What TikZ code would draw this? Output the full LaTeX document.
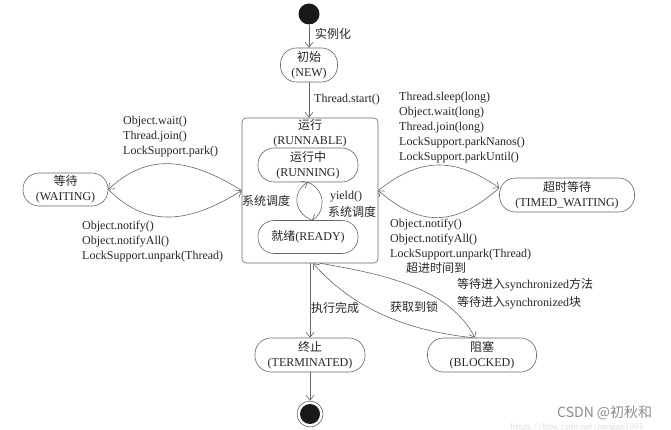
\documentclass[tikz,border=0pt]{standalone}
\usepackage{fontspec}
\setmainfont{Liberation Serif}
\newfontfamily\cjk{Noto Sans CJK SC}
\newfontfamily\wmfont{Noto Sans CJK SC}
\usetikzlibrary{arrows.meta}
\begin{document}
\begin{tikzpicture}[x=1pt,y=-1pt,
  every node/.style={font=\fontsize{12}{15}\selectfont, text=black!85, inner sep=0pt},
  st/.style={draw=black!60, line width=0.6pt, rounded corners=16pt, minimum width=#1, minimum height=34pt, align=center},
  arr/.style={draw=black!60, line width=0.6pt, -{Straight Barb[length=5pt,width=8pt]}},
  lbl/.style={align=left, anchor=west}
]
\useasboundingbox[fill=white] (0,0) rectangle (671,430);

% nodes
\node[circle, fill=black!90, minimum size=21pt] (start) at (309,14) {};
\node[st=57pt] (new) at (309,65) {{\cjk 初始}\\(NEW)};
\node[draw=black!60, line width=0.6pt, rounded corners=4pt, minimum width=136pt, minimum height=145pt] (runnable) at (310,190.5) {};
\node[align=center] (rlabel) at (310,133) {{\cjk 运行}\\(RUNNABLE)};
\node[st=100pt] (running) at (308,165) {{\cjk 运行中}\\(RUNNING)};
\node[st=100pt, minimum height=33pt] (ready) at (308,237) {{\cjk 就绪}(READY)};
\node[st=85pt, minimum height=33pt] (waiting) at (65.5,189.5) {{\cjk 等待}\\(WAITING)};
\node[st=135pt] (timed) at (567,195) {{\cjk 超时等待}\\(TIMED\_WAITING)};
\node[st=110pt] (term) at (310,355) {{\cjk 终止}\\(TERMINATED)};
\node[st=109pt] (blocked) at (482,355) {{\cjk 阻塞}\\(BLOCKED)};
\node[circle, draw=black!60, line width=0.6pt, minimum size=26pt] (endc) at (310,414) {};
\node[circle, fill=black!90, minimum size=20pt] (endin) at (endc) {};

% top
\draw[arr] (start) -- (new);
\node[anchor=west] (inst) at (315,34) {\cjk 实例化};
\draw[arr] (new) -- (new |- runnable.north);
\node[anchor=west] (tstart) at (314,100) {Thread.start()};

% running <-> ready
\draw[arr] ([xshift=4pt]ready.north) .. controls (292,212) and (293,190) .. ([xshift=0pt]running.south);
\draw[arr] ([xshift=0pt]running.south) .. controls (326,190) and (326,212) .. ([xshift=4pt]ready.north);
\node (sys1) at (266,201) {\cjk 系统调度};
\node (yield) at (346,197) {yield()};
\node (sys2) at (352,212) {\cjk 系统调度};

% waiting lens
\draw[arr] (runnable.west) .. controls (185,155) and (145,155) .. (waiting.east);
\draw[arr] (waiting.east) .. controls (145,226) and (185,226) .. (runnable.west);
\node[lbl] (wl1) at (123,137) {Object.wait()\\Thread.join()\\LockSupport.park()};
\node[lbl] (wl2) at (82,242) {Object.notify()\\Object.notifyAll()\\LockSupport.unpark(Thread)};

% timed waiting lens
\draw[arr] (runnable.east) .. controls (420,157) and (455,157) .. ([yshift=7pt]timed.west);
\draw[arr] ([yshift=7pt]timed.west) .. controls (455,227) and (420,227) .. (runnable.east);
\node[lbl] (tl1) at (399,128) {Thread.sleep(long)\\Object.wait(long)\\Thread.join(long)\\LockSupport.parkNanos()\\LockSupport.parkUntil()};
\node[lbl] (tl2) at (390,240) {Object.notify()\\Object.notifyAll()\\LockSupport.unpark(Thread)};

% bottom
\draw[arr] (runnable.south) -- (term.north);
\node (done) at (335,308) {\cjk 执行完成};
\draw[arr] (term.south) -- (endc.north);
\draw[arr] ([xshift=-9pt]blocked.north) .. controls (400,330) and (350,305) .. ([xshift=3pt]runnable.south);
\node (lock) at (414,307) {\cjk 获取到锁};
\draw[arr] ([xshift=10pt]runnable.south) .. controls (390,275) and (450,290) .. ([xshift=-7pt]blocked.north);
\node[anchor=west] (timeout) at (406,268) {\cjk 超进时间到};
\node[anchor=west] (sync1) at (457,285) {{\cjk 等待进入}synchronized{\cjk 方法}};
\node[anchor=west] (sync2) at (457,303) {{\cjk 等待进入}synchronized{\cjk 块}};

% watermark
\node[font=\wmfont\fontsize{14}{16}\selectfont, text=black!45, anchor=west] (wm) at (557,413) {CSDN @初秋和};
\node[font=\fontsize{9}{10}\selectfont\sffamily, text=black!12] (url) at (577,427) {https://blog.csdn.net/pengge1991};
\end{tikzpicture}
\end{document}
